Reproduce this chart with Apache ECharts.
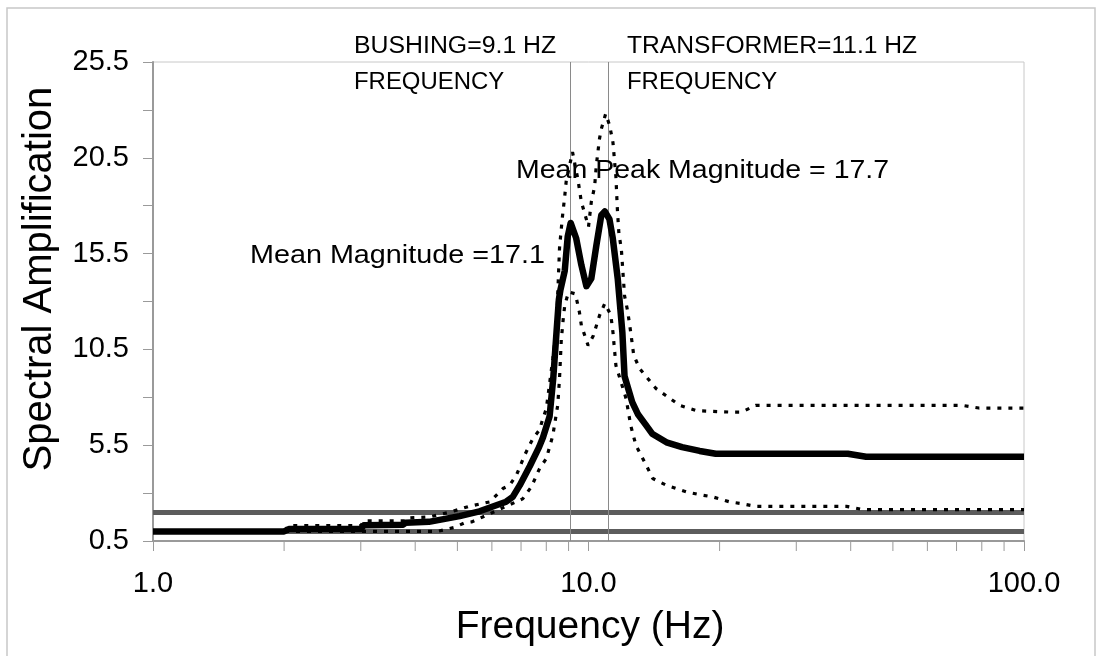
<!DOCTYPE html>
<html>
<head>
<meta charset="utf-8">
<script src="https://cdn.jsdelivr.net/npm/echarts@6/dist/echarts.min.js"></script>
<style>
  html, body { margin: 0; padding: 0; background: #fff; }
  #chart { width: 1099px; height: 656px; }
</style>
</head>
<body>
<div id="chart"></div>
<script>
const FONT = '"Liberation Sans", Arial, sans-serif';

// Mean spectral amplification curve (frequency in Hz, amplification)
const meanFreq = [1.0, 2.0, 2.05, 3.0, 3.05, 3.75, 3.8, 4.3, 5.06, 5.62, 6.03, 6.47, 6.7, 6.95, 7.33, 7.7, 7.86, 8.14, 8.3, 8.45, 8.55, 8.62, 8.82, 8.96, 9.1, 9.37, 9.63, 9.89, 10.15, 10.42, 10.7, 10.9, 11.17, 11.37, 11.67, 11.96, 12.1, 12.6, 13.0, 13.5, 14.0, 15.1, 16.4, 18.0, 19.6, 39.4, 43.4, 100];
const meanAmp  = [1.0, 1.0, 1.12, 1.12, 1.32, 1.35, 1.45, 1.5, 1.8, 2.05, 2.3, 2.55, 2.8, 3.4, 4.4, 5.4, 5.9, 7.0, 9.0, 11.5, 13.1, 13.6, 14.6, 16.4, 17.1, 16.3, 14.9, 13.8, 14.2, 15.9, 17.5, 17.7, 17.3, 16.3, 14.2, 11.4, 9.1, 7.75, 7.1, 6.6, 6.1, 5.65, 5.4, 5.2, 5.05, 5.05, 4.9, 4.9];

// Upper envelope (mean + one standard deviation)
const upperFreq = [1.0, 2.0, 2.05, 3.0, 3.05, 3.8, 3.85, 4.3, 4.8, 5.3, 5.93, 6.25, 6.36, 6.59, 6.83, 7.13, 7.45, 7.72, 7.86, 8.0, 8.28, 8.44, 8.58, 8.66, 8.72, 8.82, 8.89, 9.19, 9.45, 9.63, 10.0, 10.15, 10.33, 10.42, 10.6, 10.7, 10.95, 11.18, 11.38, 11.56, 11.65, 11.74, 11.9, 12.0, 12.1, 12.3, 12.5, 12.7, 13.1, 14.3, 16.2, 17.7, 21.1, 22.5, 24.2, 72, 78.8, 100];
const upperAmp  = [1.0, 1.0, 1.3, 1.3, 1.55, 1.55, 1.7, 1.75, 2.0, 2.3, 2.54, 3.06, 3.24, 3.41, 3.93, 4.97, 5.84, 6.3, 6.9, 7.4, 10.0, 11.6, 15.8, 16.8, 17.5, 18.5, 19.3, 20.8, 19.4, 18.2, 16.9, 18.2, 19.0, 20.1, 21.5, 22.0, 22.8, 22.2, 21.3, 19.5, 17.8, 16.6, 15.7, 14.5, 13.3, 12.5, 11.4, 10.2, 9.5, 8.45, 7.58, 7.3, 7.23, 7.23, 7.58, 7.58, 7.44, 7.44];

// Lower envelope (mean - one standard deviation)
const lowerFreq = [1.0, 4.5, 4.9, 5.2, 5.4, 7.06, 7.39, 7.72, 8.0, 8.28, 8.5, 8.58, 8.66, 8.75, 8.82, 9.0, 9.33, 9.53, 9.63, 9.98, 10.25, 10.6, 10.9, 11.25, 11.38, 11.56, 12.2, 12.5, 12.85, 13.57, 14.05, 15.1, 16.8, 18.0, 19.3, 21.1, 22.6, 24.2, 39.1, 42.7, 100];
const lowerAmp  = [1.0, 1.0, 1.2, 1.45, 1.5, 2.7, 3.32, 4.28, 4.8, 6.0, 7.6, 9.0, 11.0, 12.1, 12.8, 13.5, 13.4, 12.45, 11.75, 10.7, 11.2, 12.27, 12.9, 12.3, 11.4, 9.66, 7.93, 6.53, 5.49, 4.45, 3.76, 3.41, 3.06, 2.92, 2.8, 2.54, 2.44, 2.31, 2.31, 2.14, 2.14];

// Resonant frequencies of bushing and transformer
const resonanceFreqs = [9.1, 11.1];
// Horizontal reference amplification levels
const referenceLevels = [1.0, 2.0];

// Axis ticks
const yTicks = [0.5, 5.5, 10.5, 15.5, 20.5, 25.5];
const yMinorTicks = [3, 8, 13, 18, 23];
const xMinorTicks = [2, 3, 4, 5, 6, 7, 8, 9, 20, 30, 40, 50, 60, 70, 80, 90];

const zip = (xs, ys) => xs.map((x, i) => [x, ys[i]]);

const AXIS_GRAY = '#9a9a9a';

// annotation text, drawn slightly wide as in the original figure
function note(text, x, y, size, stretch) {
  return {
    type: 'text', x: x, y: y, z: 10, scaleX: stretch, scaleY: 1,
    style: { text: text, font: size + 'px ' + FONT, fill: '#000', textVerticalAlign: 'middle' }
  };
}

const chart = echarts.init(document.getElementById('chart'), null, { renderer: 'canvas' });

chart.setOption({
  animation: false,
  backgroundColor: '#ffffff',
  grid: {
    left: 153, right: 75, top: 62, bottom: 115,
    show: true, borderColor: '#c8c8c8', borderWidth: 1, backgroundColor: 'transparent'
  },
  xAxis: {
    type: 'log', logBase: 10, min: 1, max: 100,
    axisLine: { show: true, onZero: false, lineStyle: { color: AXIS_GRAY, width: 2 } },
    axisTick: { show: true, inside: false, length: 10, lineStyle: { color: AXIS_GRAY, width: 1 } },
    axisLabel: {
      margin: 28, fontSize: 29, color: '#000', fontFamily: FONT,
      formatter: v => Number(v).toFixed(1)
    },
    splitLine: { show: false },
    minorTick: { show: false }
  },
  yAxis: {
    type: 'value', min: 0.5, max: 25.5,
    axisLine: { show: true, lineStyle: { color: AXIS_GRAY, width: 2 } },
    axisTick: {
      show: true, inside: false, length: 10,
      customValues: yTicks.concat(yMinorTicks),
      lineStyle: { color: AXIS_GRAY, width: 1 }
    },
    axisLabel: {
      margin: 24, fontSize: 29, color: '#000', fontFamily: FONT,
      customValues: yTicks,
      formatter: v => Number(v).toFixed(1)
    },
    splitLine: { show: false }
  },
  series: [
    {
      // reference levels and resonance markers, kept beneath the curves
      type: 'line', data: [], z: 1, silent: true,
      markLine: {
        z: 1, silent: true, symbol: ['none', 'none'], animation: false,
        label: { show: false },
        data: [
          ...referenceLevels.map(v => ({ yAxis: v, lineStyle: { color: '#5c5c5c', width: 5, type: 'solid' } })),
          ...resonanceFreqs.map(f => ({ xAxis: f, lineStyle: { color: '#8a8a8a', width: 1, type: 'solid' } }))
        ]
      }
    },
    {
      // minor ticks of the logarithmic frequency axis
      type: 'custom', z: 2, silent: true, clip: false,
      data: xMinorTicks.map(f => [f, 0.5]),
      renderItem: (params, api) => {
        const p = api.coord([api.value(0), api.value(1)]);
        return {
          type: 'line',
          shape: { x1: p[0], y1: p[1], x2: p[0], y2: p[1] + 10 },
          style: { stroke: AXIS_GRAY, lineWidth: 1 }
        };
      }
    },
    {
      name: 'Upper', type: 'line', z: 3, showSymbol: false, smooth: false,
      data: zip(upperFreq, upperAmp),
      lineStyle: { color: '#000', width: 3.2, type: [4, 7], cap: 'butt' }
    },
    {
      name: 'Lower', type: 'line', z: 3, showSymbol: false, smooth: false,
      data: zip(lowerFreq, lowerAmp),
      lineStyle: { color: '#000', width: 3.2, type: [4, 7], cap: 'butt' }
    },
    {
      name: 'Mean', type: 'line', z: 4, showSymbol: false, smooth: false,
      data: zip(meanFreq, meanAmp),
      lineStyle: { color: '#000', width: 6.5, join: 'round' }
    }
  ],
  graphic: [
    { type: 'rect', silent: true, z: 0,
      shape: { x: 7, y: 8, width: 1088, height: 660 },
      style: { fill: 'none', stroke: '#c8c8c8', lineWidth: 1.5 } },
    note('BUSHING=9.1 HZ', 354, 47, 23, 1.08),
    note('FREQUENCY', 354, 83, 23, 1.04),
    note('TRANSFORMER=11.1 HZ', 627, 47, 23, 1.07),
    note('FREQUENCY', 627, 83, 23, 1.04),
    note('Mean Peak Magnitude = 17.7', 516, 171, 25, 1.14),
    note('Mean Magnitude =17.1', 250, 256, 25, 1.15),
    { type: 'text', x: 40, y: 279, rotation: Math.PI / 2,
      style: { text: 'Spectral Amplification', font: '40px ' + FONT, fill: '#000', textAlign: 'center', textVerticalAlign: 'middle' } },
    { type: 'text', x: 590, y: 627,
      style: { text: 'Frequency (Hz)', font: '39px ' + FONT, fill: '#000', textAlign: 'center', textVerticalAlign: 'middle' } }
  ]
});
</script>
</body>
</html>
